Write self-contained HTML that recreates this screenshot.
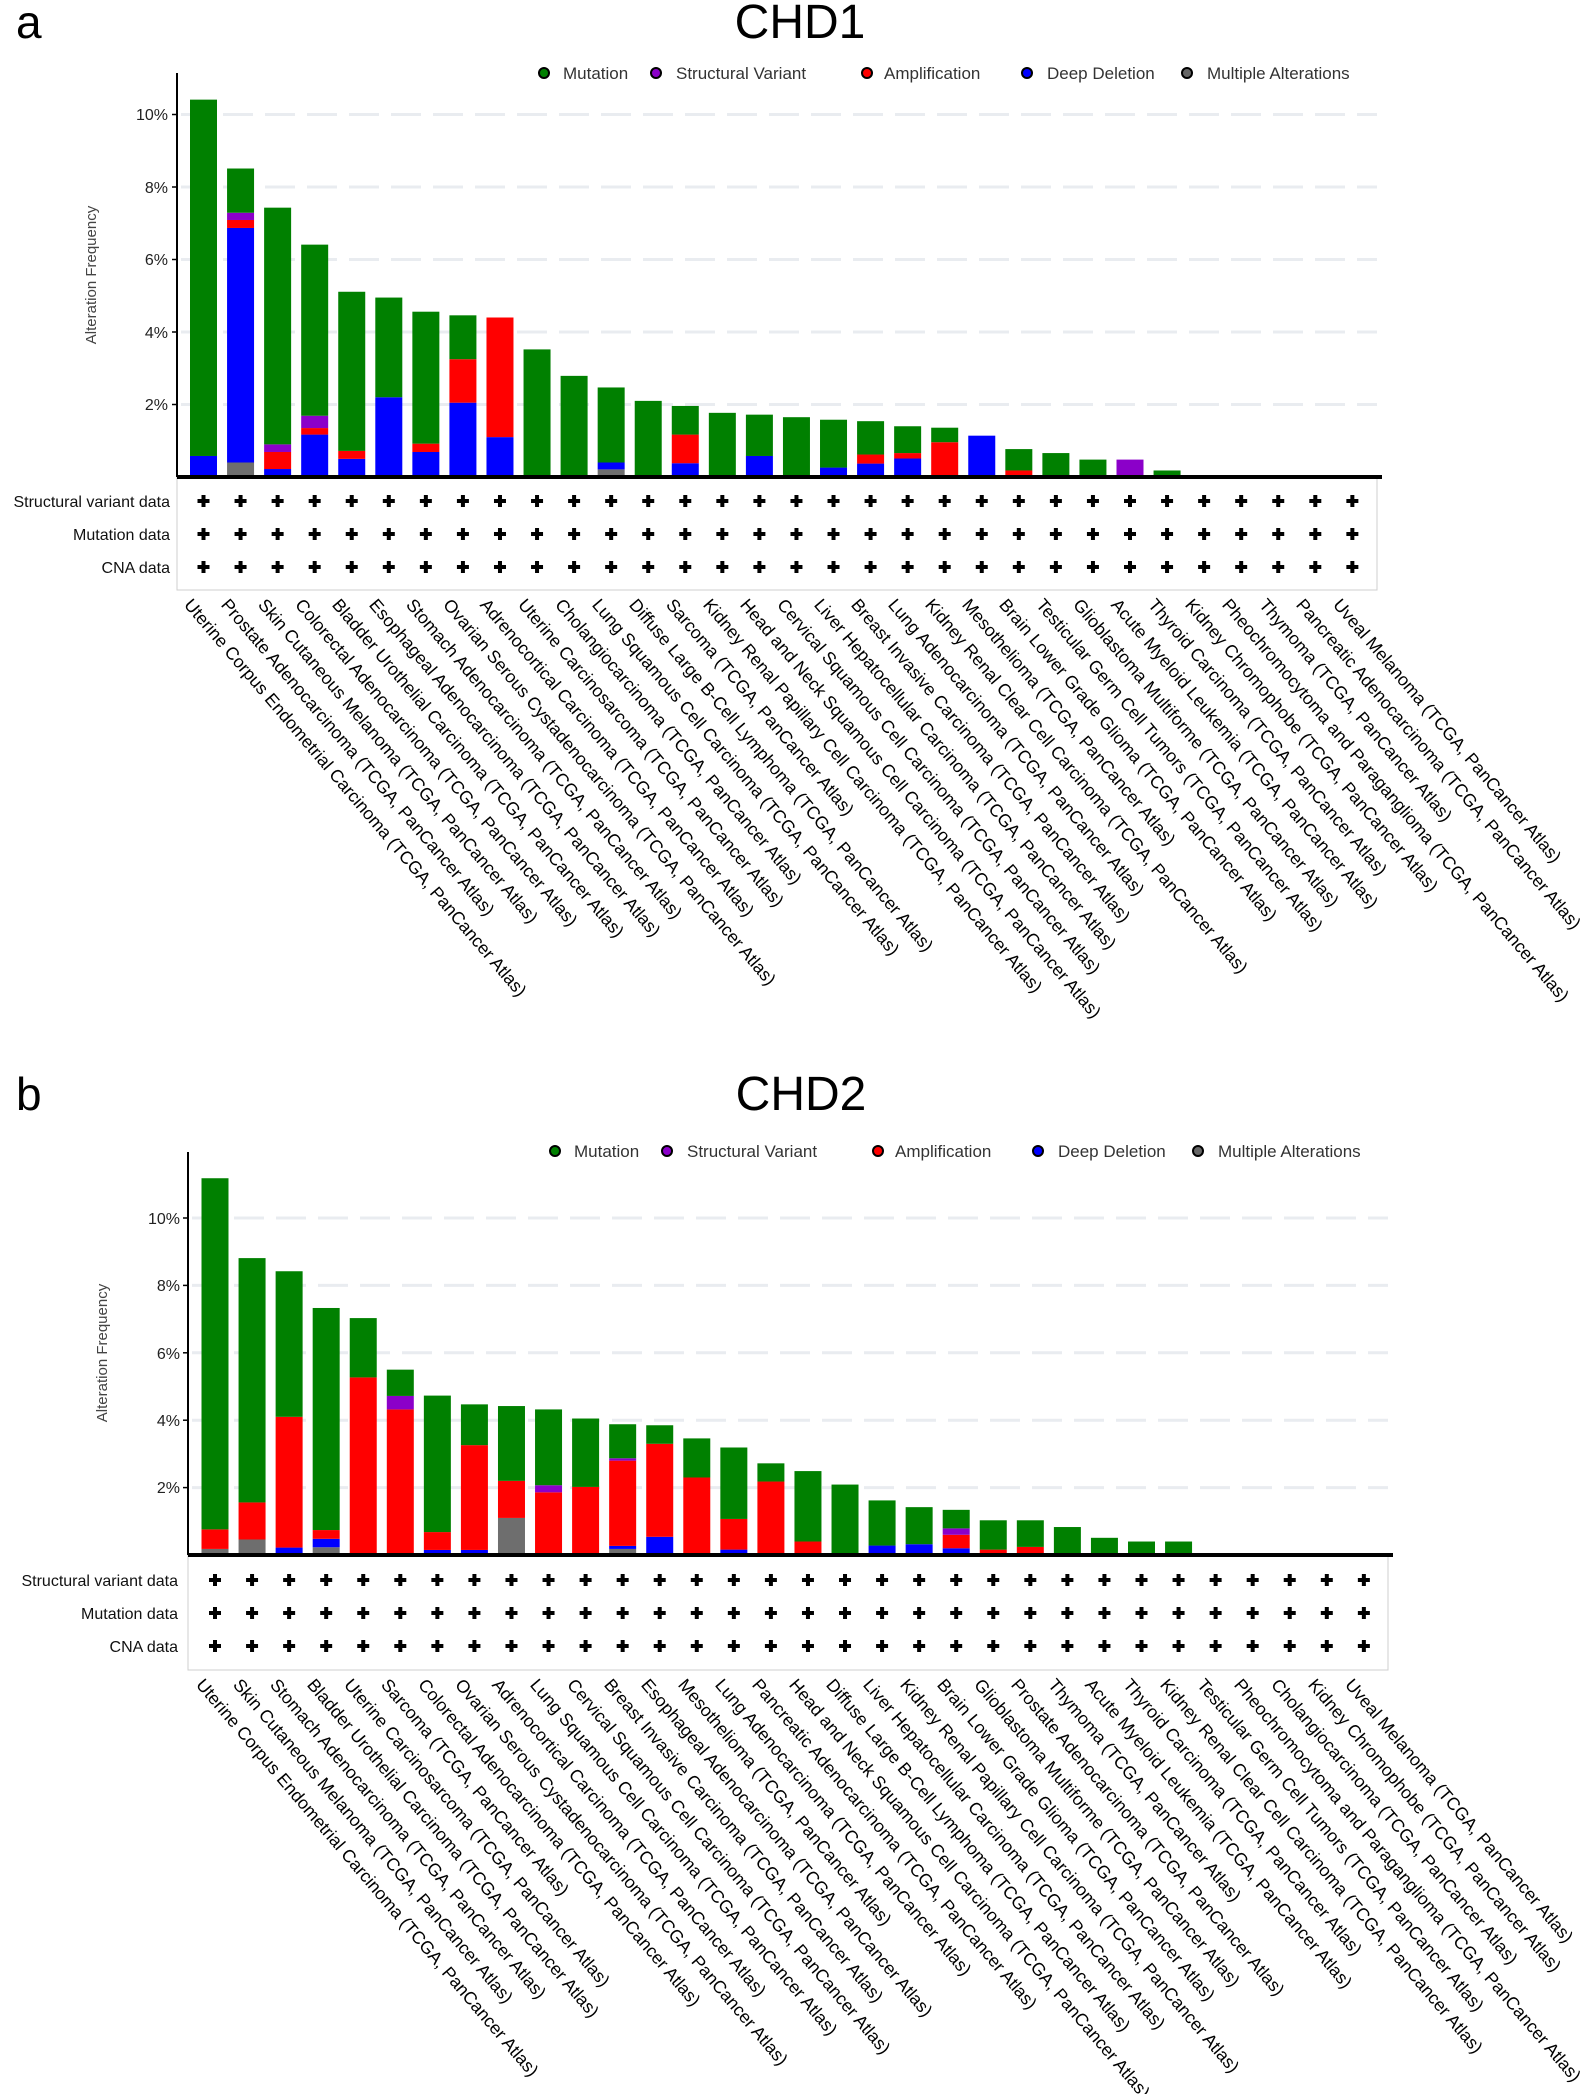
<!DOCTYPE html>
<html><head><meta charset="utf-8"><style>
html,body{margin:0;padding:0;background:#fff;}
svg{display:block;}
text{font-family:"Liberation Sans",sans-serif;}
</style></head><body>
<svg id="s" width="1587" height="2094" viewBox="0 0 1587 2094" xmlns="http://www.w3.org/2000/svg">
<rect width="1587" height="2094" fill="#fff"/>
<g id="gfx"></g>
<!-- Panel a -->
<text x="16" y="38" font-size="46">a</text>
<text x="800" y="38" font-size="48" text-anchor="middle">CHD1</text>
<g font-size="17" fill="#333">
<circle cx="544" cy="73" r="5" fill="#008000" stroke="#000" stroke-width="2"/><text x="563" y="79">Mutation</text>
<circle cx="656" cy="73" r="5" fill="#8b00c9" stroke="#000" stroke-width="2"/><text x="676" y="79">Structural Variant</text>
<circle cx="867" cy="73" r="5" fill="#f00" stroke="#000" stroke-width="2"/><text x="884" y="79">Amplification</text>
<circle cx="1027" cy="73" r="5" fill="#00f" stroke="#000" stroke-width="2"/><text x="1047" y="79">Deep Deletion</text>
<circle cx="1187" cy="73" r="5" fill="#666" stroke="#000" stroke-width="2"/><text x="1207" y="79">Multiple Alterations</text>
</g>
<text transform="translate(96,275) rotate(-90)" font-size="15" fill="#444" text-anchor="middle">Alteration Frequency</text>
<g font-size="16" fill="#222" text-anchor="end">
<text x="168" y="120">10%</text><text x="168" y="193">8%</text><text x="168" y="265">6%</text><text x="168" y="338">4%</text><text x="168" y="410">2%</text>
</g>
<g font-size="16" fill="#111" text-anchor="end">
<text x="170" y="507">Structural variant data</text><text x="170" y="540">Mutation data</text><text x="170" y="573">CNA data</text>
</g>
<g font-size="17.7" fill="#000" dominant-baseline="hanging">
<text transform="translate(193,597) rotate(49.5)">Uterine Corpus Endometrial Carcinoma (TCGA, PanCancer Atlas)</text>
<text transform="translate(230,597) rotate(49.5)">Prostate Adenocarcinoma (TCGA, PanCancer Atlas)</text>
<text transform="translate(267,597) rotate(49.5)">Skin Cutaneous Melanoma (TCGA, PanCancer Atlas)</text>
<text transform="translate(304,597) rotate(49.5)">Colorectal Adenocarcinoma (TCGA, PanCancer Atlas)</text>
<text transform="translate(341,597) rotate(49.5)">Bladder Urothelial Carcinoma (TCGA, PanCancer Atlas)</text>
<text transform="translate(378,597) rotate(49.5)">Esophageal Adenocarcinoma (TCGA, PanCancer Atlas)</text>
<text transform="translate(415,597) rotate(49.5)">Stomach Adenocarcinoma (TCGA, PanCancer Atlas)</text>
<text transform="translate(452,597) rotate(49.5)">Ovarian Serous Cystadenocarcinoma (TCGA, PanCancer Atlas)</text>
<text transform="translate(489,597) rotate(49.5)">Adrenocortical Carcinoma (TCGA, PanCancer Atlas)</text>
<text transform="translate(527,597) rotate(49.5)">Uterine Carcinosarcoma (TCGA, PanCancer Atlas)</text>
<text transform="translate(564,597) rotate(49.5)">Cholangiocarcinoma (TCGA, PanCancer Atlas)</text>
<text transform="translate(601,597) rotate(49.5)">Lung Squamous Cell Carcinoma (TCGA, PanCancer Atlas)</text>
<text transform="translate(638,597) rotate(49.5)">Diffuse Large B-Cell Lymphoma (TCGA, PanCancer Atlas)</text>
<text transform="translate(675,597) rotate(49.5)">Sarcoma (TCGA, PanCancer Atlas)</text>
<text transform="translate(712,597) rotate(49.5)">Kidney Renal Papillary Cell Carcinoma (TCGA, PanCancer Atlas)</text>
<text transform="translate(749,597) rotate(49.5)">Head and Neck Squamous Cell Carcinoma (TCGA, PanCancer Atlas)</text>
<text transform="translate(786,597) rotate(49.5)">Cervical Squamous Cell Carcinoma (TCGA, PanCancer Atlas)</text>
<text transform="translate(823,597) rotate(49.5)">Liver Hepatocellular Carcinoma (TCGA, PanCancer Atlas)</text>
<text transform="translate(860,597) rotate(49.5)">Breast Invasive Carcinoma (TCGA, PanCancer Atlas)</text>
<text transform="translate(897,597) rotate(49.5)">Lung Adenocarcinoma (TCGA, PanCancer Atlas)</text>
<text transform="translate(934,597) rotate(49.5)">Kidney Renal Clear Cell Carcinoma (TCGA, PanCancer Atlas)</text>
<text transform="translate(971,597) rotate(49.5)">Mesothelioma (TCGA, PanCancer Atlas)</text>
<text transform="translate(1008,597) rotate(49.5)">Brain Lower Grade Glioma (TCGA, PanCancer Atlas)</text>
<text transform="translate(1045,597) rotate(49.5)">Testicular Germ Cell Tumors (TCGA, PanCancer Atlas)</text>
<text transform="translate(1082,597) rotate(49.5)">Glioblastoma Multiforme (TCGA, PanCancer Atlas)</text>
<text transform="translate(1120,597) rotate(49.5)">Acute Myeloid Leukemia (TCGA, PanCancer Atlas)</text>
<text transform="translate(1157,597) rotate(49.5)">Thyroid Carcinoma (TCGA, PanCancer Atlas)</text>
<text transform="translate(1194,597) rotate(49.5)">Kidney Chromophobe (TCGA, PanCancer Atlas)</text>
<text transform="translate(1231,597) rotate(49.5)">Pheochromocytoma and Paraganglioma (TCGA, PanCancer Atlas)</text>
<text transform="translate(1268,597) rotate(49.5)">Thymoma (TCGA, PanCancer Atlas)</text>
<text transform="translate(1305,597) rotate(49.5)">Pancreatic Adenocarcinoma (TCGA, PanCancer Atlas)</text>
<text transform="translate(1342,597) rotate(49.5)">Uveal Melanoma (TCGA, PanCancer Atlas)</text>
</g>
<!-- Panel b -->
<text x="16" y="1110" font-size="46">b</text>
<text x="801" y="1110" font-size="48" text-anchor="middle">CHD2</text>
<g font-size="17" fill="#333">
<circle cx="555" cy="1151" r="5" fill="#008000" stroke="#000" stroke-width="2"/><text x="574" y="1157">Mutation</text>
<circle cx="667" cy="1151" r="5" fill="#8b00c9" stroke="#000" stroke-width="2"/><text x="687" y="1157">Structural Variant</text>
<circle cx="878" cy="1151" r="5" fill="#f00" stroke="#000" stroke-width="2"/><text x="895" y="1157">Amplification</text>
<circle cx="1038" cy="1151" r="5" fill="#00f" stroke="#000" stroke-width="2"/><text x="1058" y="1157">Deep Deletion</text>
<circle cx="1198" cy="1151" r="5" fill="#666" stroke="#000" stroke-width="2"/><text x="1218" y="1157">Multiple Alterations</text>
</g>
<text transform="translate(107,1353) rotate(-90)" font-size="15" fill="#444" text-anchor="middle">Alteration Frequency</text>
<g font-size="16" fill="#222" text-anchor="end">
<text x="180" y="1224">10%</text><text x="180" y="1291">8%</text><text x="180" y="1359">6%</text><text x="180" y="1426">4%</text><text x="180" y="1493">2%</text>
</g>
<g font-size="16" fill="#111" text-anchor="end">
<text x="178" y="1586">Structural variant data</text><text x="178" y="1619">Mutation data</text><text x="178" y="1652">CNA data</text>
</g>
<g font-size="17.7" fill="#000" dominant-baseline="hanging">
<text transform="translate(205,1677) rotate(49.5)">Uterine Corpus Endometrial Carcinoma (TCGA, PanCancer Atlas)</text>
<text transform="translate(242,1677) rotate(49.5)">Skin Cutaneous Melanoma (TCGA, PanCancer Atlas)</text>
<text transform="translate(279,1677) rotate(49.5)">Stomach Adenocarcinoma (TCGA, PanCancer Atlas)</text>
<text transform="translate(316,1677) rotate(49.5)">Bladder Urothelial Carcinoma (TCGA, PanCancer Atlas)</text>
<text transform="translate(353,1677) rotate(49.5)">Uterine Carcinosarcoma (TCGA, PanCancer Atlas)</text>
<text transform="translate(390,1677) rotate(49.5)">Sarcoma (TCGA, PanCancer Atlas)</text>
<text transform="translate(427,1677) rotate(49.5)">Colorectal Adenocarcinoma (TCGA, PanCancer Atlas)</text>
<text transform="translate(464,1677) rotate(49.5)">Ovarian Serous Cystadenocarcinoma (TCGA, PanCancer Atlas)</text>
<text transform="translate(501,1677) rotate(49.5)">Adrenocortical Carcinoma (TCGA, PanCancer Atlas)</text>
<text transform="translate(539,1677) rotate(49.5)">Lung Squamous Cell Carcinoma (TCGA, PanCancer Atlas)</text>
<text transform="translate(576,1677) rotate(49.5)">Cervical Squamous Cell Carcinoma (TCGA, PanCancer Atlas)</text>
<text transform="translate(613,1677) rotate(49.5)">Breast Invasive Carcinoma (TCGA, PanCancer Atlas)</text>
<text transform="translate(650,1677) rotate(49.5)">Esophageal Adenocarcinoma (TCGA, PanCancer Atlas)</text>
<text transform="translate(687,1677) rotate(49.5)">Mesothelioma (TCGA, PanCancer Atlas)</text>
<text transform="translate(724,1677) rotate(49.5)">Lung Adenocarcinoma (TCGA, PanCancer Atlas)</text>
<text transform="translate(761,1677) rotate(49.5)">Pancreatic Adenocarcinoma (TCGA, PanCancer Atlas)</text>
<text transform="translate(798,1677) rotate(49.5)">Head and Neck Squamous Cell Carcinoma (TCGA, PanCancer Atlas)</text>
<text transform="translate(835,1677) rotate(49.5)">Diffuse Large B-Cell Lymphoma (TCGA, PanCancer Atlas)</text>
<text transform="translate(872,1677) rotate(49.5)">Liver Hepatocellular Carcinoma (TCGA, PanCancer Atlas)</text>
<text transform="translate(909,1677) rotate(49.5)">Kidney Renal Papillary Cell Carcinoma (TCGA, PanCancer Atlas)</text>
<text transform="translate(946,1677) rotate(49.5)">Brain Lower Grade Glioma (TCGA, PanCancer Atlas)</text>
<text transform="translate(983,1677) rotate(49.5)">Glioblastoma Multiforme (TCGA, PanCancer Atlas)</text>
<text transform="translate(1020,1677) rotate(49.5)">Prostate Adenocarcinoma (TCGA, PanCancer Atlas)</text>
<text transform="translate(1057,1677) rotate(49.5)">Thymoma (TCGA, PanCancer Atlas)</text>
<text transform="translate(1094,1677) rotate(49.5)">Acute Myeloid Leukemia (TCGA, PanCancer Atlas)</text>
<text transform="translate(1132,1677) rotate(49.5)">Thyroid Carcinoma (TCGA, PanCancer Atlas)</text>
<text transform="translate(1169,1677) rotate(49.5)">Kidney Renal Clear Cell Carcinoma (TCGA, PanCancer Atlas)</text>
<text transform="translate(1206,1677) rotate(49.5)">Testicular Germ Cell Tumors (TCGA, PanCancer Atlas)</text>
<text transform="translate(1243,1677) rotate(49.5)">Pheochromocytoma and Paraganglioma (TCGA, PanCancer Atlas)</text>
<text transform="translate(1280,1677) rotate(49.5)">Cholangiocarcinoma (TCGA, PanCancer Atlas)</text>
<text transform="translate(1317,1677) rotate(49.5)">Kidney Chromophobe (TCGA, PanCancer Atlas)</text>
<text transform="translate(1354,1677) rotate(49.5)">Uveal Melanoma (TCGA, PanCancer Atlas)</text>
</g>
</svg>
<script>
(function(){
var NS="http://www.w3.org/2000/svg",g=document.getElementById("gfx");
function el(t,a){var e=document.createElementNS(NS,t);for(var k in a)e.setAttribute(k,a[k]);g.appendChild(e);return e;}
var C=["#6e6e6e","#0000ff","#ff0000","#8b00c9","#008000"];
function panel(o){
  el("rect",{x:o.ax,y:o.base,width:o.right-o.ax,height:o.boxB-o.base,fill:"none",stroke:"#cfcfcf","stroke-width":1});
  [2,4,6,8,10].forEach(function(v){var y=o.base-v*o.k;
    el("line",{x1:o.ax+4,x2:o.right,y1:y,y2:y,stroke:"#e9ecf0","stroke-width":3,"stroke-dasharray":"30 12"});
    el("line",{x1:o.ax-5,x2:o.ax,y1:y,y2:y,stroke:"#000","stroke-width":1.5});});
  o.d.forEach(function(b,i){var x=o.x0+i*37.06,prev=0;
    if(typeof b==="number")b=[0,0,0,0,b];
    for(var j=0;j<5;j++){var t=b[j];if(t>prev){var y1=o.base-t*o.k,y0=o.base-prev*o.k;
      el("rect",{x:x,y:y1,width:27,height:y0-y1,fill:C[j]});prev=t;}}
  });
  el("line",{x1:o.ax,x2:o.ax,y1:o.top,y2:o.base,stroke:"#000","stroke-width":2});
  el("line",{x1:o.ax,x2:o.right+5,y1:o.base,y2:o.base,stroke:"#000","stroke-width":4});
  for(var i=0;i<32;i++){var cx=o.x0+i*37.06+13.5;
    o.rows.forEach(function(y){
      el("rect",{x:cx-6,y:y-2,width:12,height:4,fill:"#000"});
      el("rect",{x:cx-2,y:y-6,width:4,height:12,fill:"#000"});});}
}
panel({ax:177,top:73,base:477,k:36.25,right:1377,boxB:590,x0:190,rows:[501,534,567],d:[
[0,.58,.58,.58,10.41],[.40,6.87,7.09,7.29,8.51],[0,.22,.69,.90,7.43],[0,1.17,1.35,1.69,6.41],
[0,.50,.72,.72,5.11],[0,2.2,2.2,2.2,4.95],[0,.69,.92,.92,4.56],[0,2.05,3.25,3.25,4.46],
[0,1.10,4.40,4.40,4.40],3.52,2.79,[.21,.40,.40,.40,2.47],2.10,[0,.38,1.17,1.17,1.96],1.77,
[0,.58,.58,.58,1.72],1.65,[0,.26,.26,.26,1.58],[0,.37,.62,.62,1.54],[0,.51,.66,.66,1.40],
[0,0,.96,.96,1.36],[0,1.14,1.14,1.14,1.14],[0,0,.18,.18,.77],.66,.48,[0,0,0,.48,.48],.18,0,0,0,0,0]});
panel({ax:188,top:1152,base:1555,k:33.7,right:1388,boxB:1670,x0:201.5,rows:[1580,1613,1646],d:[
[.18,.18,.76,.76,11.18],[.46,.46,1.56,1.56,8.81],[0,.22,4.10,4.10,8.42],[.23,.48,.74,.74,7.33],
[0,0,5.27,5.27,7.03],[0,0,4.32,4.72,5.50],[0,.15,.68,.68,4.73],[0,.15,3.26,3.26,4.47],
[1.10,1.10,2.20,2.20,4.42],[0,0,1.86,2.07,4.32],[0,0,2.02,2.02,4.05],[.18,.27,2.80,2.87,3.88],
[0,.54,3.30,3.30,3.85],[0,0,2.30,2.30,3.46],[0,.16,1.07,1.07,3.19],[0,0,2.18,2.18,2.72],
[0,0,.4,.4,2.49],2.09,[0,.28,.28,.28,1.62],[0,.32,.32,.32,1.42],[0,.2,.6,.79,1.34],
[0,0,.16,.16,1.03],[0,0,.24,.24,1.03],.83,.51,.40,.40,0,0,0,0,0]});
})();
</script>
</body></html>
